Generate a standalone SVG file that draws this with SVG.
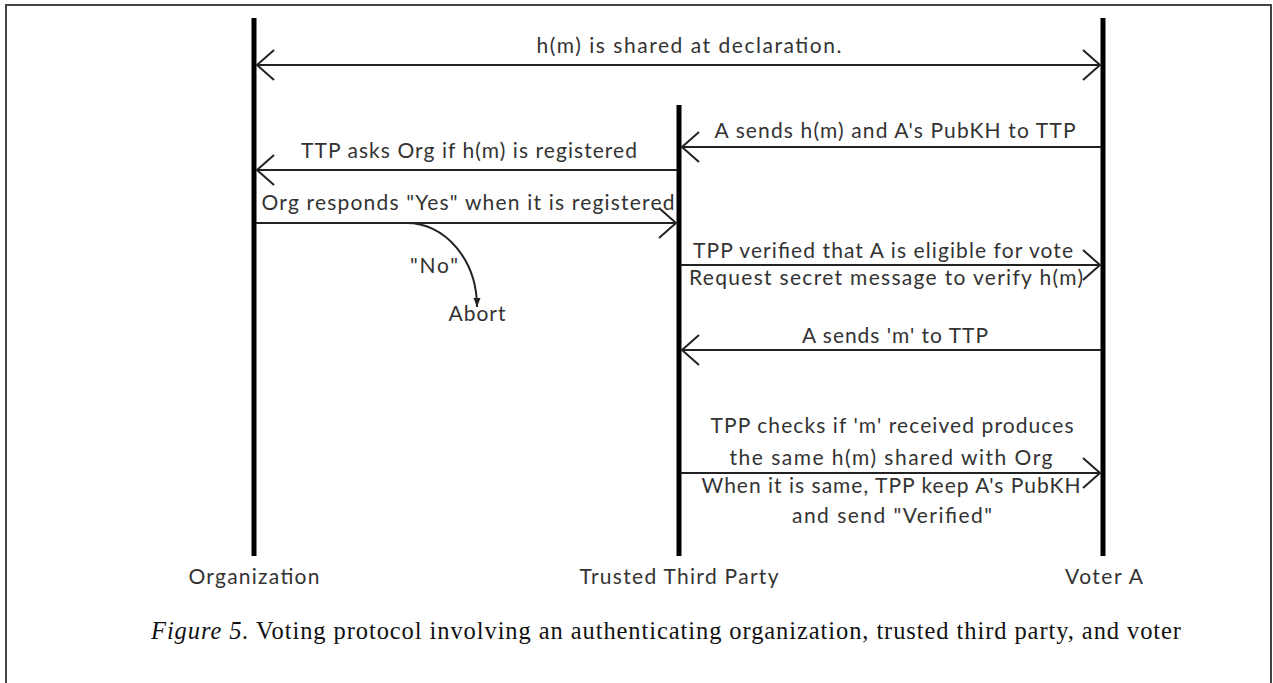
<svg xmlns="http://www.w3.org/2000/svg" width="1273" height="683" viewBox="0 0 1273 683">
<defs>
<style>
.t{font-family:Lato,"Open Sans","Liberation Sans",sans-serif;font-size:21px;fill:#333;text-anchor:middle}
.cap{font-family:"Liberation Serif","DejaVu Serif",serif;font-size:24.5px;fill:#111}
.life{stroke:#000;stroke-width:5;fill:none}
.msg{stroke:#222;stroke-width:2;fill:none;marker-end:url(#ah)}
</style>
<marker id="ah" markerUnits="userSpaceOnUse" viewBox="0 -17 20 34" refX="18" refY="0" markerWidth="20" markerHeight="34" orient="auto-start-reverse">
<path d="M1,-15 L18,0 L1,15" fill="none" stroke="#222" stroke-width="2"/>
</marker>
<marker id="sm" markerUnits="userSpaceOnUse" viewBox="0 -5 10 10" refX="9" refY="0" markerWidth="10" markerHeight="10" orient="auto">
<path d="M0,-3.5 L9,0 L0,3.5 Z" fill="#222"/>
</marker>
</defs>
<rect x="6" y="5" width="1265" height="700" fill="#fff" stroke="#444" stroke-width="2"/>
<g id="organization">
<line class="life" x1="254" y1="18" x2="254" y2="556"/>
<text class="t" x="254" y="584" textLength="131" lengthAdjust="spacing">Organization</text>
</g>
<g id="ttp">
<line class="life" x1="679" y1="105" x2="679" y2="556"/>
<text class="t" x="679" y="584" textLength="199" lengthAdjust="spacing">Trusted Third Party</text>
</g>
<g id="voter">
<line class="life" x1="1103" y1="18" x2="1103" y2="556"/>
<text class="t" x="1104" y="584" textLength="78" lengthAdjust="spacing">Voter A</text>
</g>
<g id="connectors">
<line class="msg" x1="257" y1="65" x2="1100" y2="65" marker-start="url(#ah)"/>
<line class="msg" x1="1101" y1="147" x2="682" y2="147"/>
<line class="msg" x1="677" y1="170" x2="257" y2="170"/>
<line class="msg" x1="256" y1="223" x2="676" y2="223"/>
<line class="msg" x1="681" y1="265" x2="1100" y2="265"/>
<line class="msg" x1="1101" y1="350" x2="682" y2="350"/>
<line class="msg" x1="681" y1="473" x2="1100" y2="473"/>
<path d="M407,223 A70,84 0 0 1 477,307" fill="none" stroke="#222" stroke-width="2" marker-end="url(#sm)"/>
</g>
<g id="labels">
<text class="t" x="689" y="53" textLength="305" lengthAdjust="spacing">h(m) is shared at declaration.</text>
<text class="t" x="895" y="138" textLength="361" lengthAdjust="spacing">A sends h(m) and A's PubKH to TTP</text>
<text class="t" x="469" y="158" textLength="336" lengthAdjust="spacing">TTP asks Org if h(m) is registered</text>
<text class="t" x="468" y="210" textLength="413" lengthAdjust="spacing">Org responds "Yes" when it is registered</text>
<text class="t" x="434" y="273" textLength="48" lengthAdjust="spacing">"No"</text>
<text class="t" x="477" y="321" textLength="57" lengthAdjust="spacing">Abort</text>
<text class="t" x="883" y="258" textLength="380" lengthAdjust="spacing">TPP verified that A is eligible for vote</text>
<text class="t" x="886" y="285" textLength="394" lengthAdjust="spacing">Request secret message to verify h(m)</text>
<text class="t" x="895" y="343" textLength="186" lengthAdjust="spacing">A sends 'm' to TTP</text>
<text class="t" x="892" y="433" textLength="363" lengthAdjust="spacing">TPP checks if 'm' received produces</text>
<text class="t" x="891" y="465" textLength="323" lengthAdjust="spacing">the same h(m) shared with Org</text>
<text class="t" x="891" y="493" textLength="379" lengthAdjust="spacing">When it is same, TPP keep A's PubKH</text>
<text class="t" x="892" y="523" textLength="200" lengthAdjust="spacing">and send "Verified"</text>
</g>
<text class="cap" x="151" y="639" textLength="1030" lengthAdjust="spacing"><tspan font-style="italic">Figure 5.</tspan> Voting protocol involving an authenticating organization, trusted third party, and voter</text>
</svg>
